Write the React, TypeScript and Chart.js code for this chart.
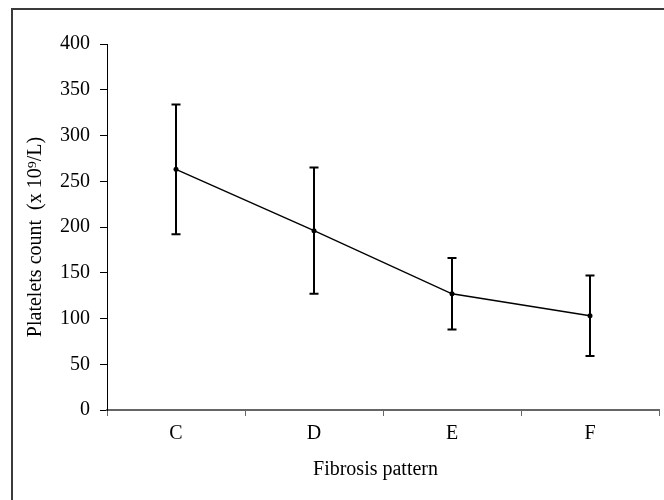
import React, { useEffect, useRef } from "react";
import { Chart, registerables } from "chart.js";

Chart.register(...registerables);

const categories = ["C", "D", "E", "F"];
const meanValues = [263, 196, 127, 103];
const sdValues = [71, 69, 39, 44];
const yTicks = [0, 50, 100, 150, 200, 250, 300, 350, 400];
const xTitle = "Fibrosis pattern";
const yTitle = "Platelets count  (x 10\u2079/L)";

const FONT = "'Liberation Serif', 'Times New Roman', serif";

const errorBarPlugin = {
  id: "errorBars",
  afterDatasetsDraw(chart: any) {
    const { ctx, scales } = chart;
    const xs = scales.x;
    const ys = scales.y;
    ctx.save();
    ctx.strokeStyle = "#000";
    ctx.lineWidth = 2;
    meanValues.forEach((m, i) => {
      const x = xs.getPixelForValue(i);
      const yTop = ys.getPixelForValue(m + sdValues[i]);
      const yBot = ys.getPixelForValue(m - sdValues[i]);
      ctx.beginPath();
      ctx.moveTo(x, yTop);
      ctx.lineTo(x, yBot);
      ctx.moveTo(x - 4.5, yTop);
      ctx.lineTo(x + 4.5, yTop);
      ctx.moveTo(x - 4.5, yBot);
      ctx.lineTo(x + 4.5, yBot);
      ctx.stroke();
    });
    ctx.restore();
  },
};

const framePlugin = {
  id: "frame",
  beforeDraw(chart: any) {
    const { ctx, width, height } = chart;
    ctx.save();
    ctx.fillStyle = "#fff";
    ctx.fillRect(0, 0, width, height);
    ctx.fillStyle = "#3a3a3a";
    ctx.fillRect(11, 8, width - 11, 2);
    ctx.fillRect(11, 8, 2, height - 8);
    ctx.restore();
  },
};

export default function App() {
  const ref = useRef<HTMLCanvasElement | null>(null);

  useEffect(() => {
    if (!ref.current) return;
    const chart = new Chart(ref.current, {
      type: "line",
      data: {
        labels: categories,
        datasets: [
          {
            data: meanValues,
            borderColor: "#000",
            borderWidth: 1.4,
            backgroundColor: "#000",
            pointRadius: 2.5,
            pointBackgroundColor: "#000",
            pointBorderWidth: 0,
            tension: 0,
          },
        ],
      },
      options: {
        responsive: false,
        animation: false,
        devicePixelRatio: 1,
        layout: { padding: { left: 0, top: 44, right: 5, bottom: 0 } },
        plugins: {
          legend: { display: false },
          tooltip: { enabled: false },
        },
        scales: {
          x: {
            offset: true,
            afterFit(scale: any) {
              scale.height = 90;
            },
            grid: {
              offset: true,
              drawOnChartArea: false,
              drawTicks: true,
              tickLength: 6,
              color: "#666",
              lineWidth: 1,
            },
            border: { display: true, color: "#666", width: 2 },
            ticks: {
              color: "#000",
              padding: 6,
              font: { family: FONT, size: 20 },
            },
            title: {
              display: true,
              text: xTitle + "   ",
              color: "#000",
              font: { family: FONT, size: 20 },
              padding: { top: 4, bottom: 18 },
            },
          },
          y: {
            min: 0,
            max: 400,
            afterFit(scale: any) {
              scale.width = 107;
            },
            afterBuildTicks(scale: any) {
              scale.ticks = yTicks.map((v) => ({ value: v }));
            },
            grid: {
              drawOnChartArea: false,
              drawTicks: true,
              tickLength: 7,
              color: "#000",
              lineWidth: 1,
            },
            border: { display: true, color: "#000", width: 1 },
            ticks: {
              color: "#000",
              padding: 10,
              font: { family: FONT, size: 20 },
            },
            title: {
              display: true,
              text: yTitle + "    ",
              color: "#000",
              font: { family: FONT, size: 20 },
              padding: { top: 24, bottom: 4 },
            },
          },
        },
      },
      plugins: [framePlugin, errorBarPlugin],
    });
    return () => chart.destroy();
  }, []);

  return (
    <div style={{ position: "absolute", left: 0, top: 0, width: 664, height: 500 }}>
      <canvas ref={ref} width={664} height={500} style={{ display: "block" }} />
    </div>
  );
}
